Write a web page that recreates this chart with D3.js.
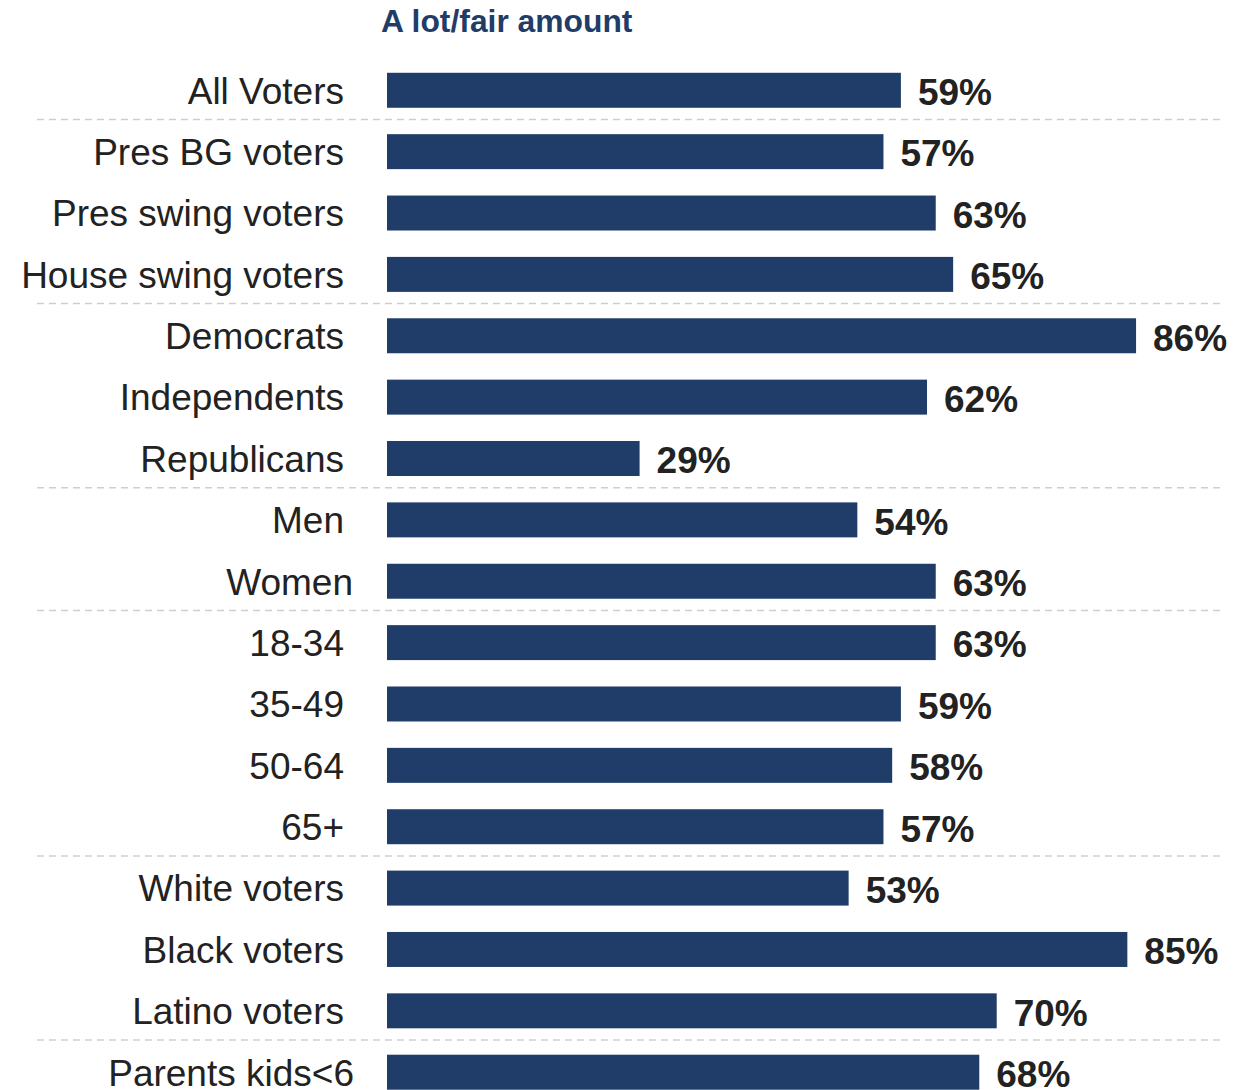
<!DOCTYPE html>
<html>
<head>
<meta charset="utf-8">
<script src="https://cdn.jsdelivr.net/npm/d3@7"></script>
<style>
  html, body { margin: 0; padding: 0; background: #fff; }
  svg { display: block; }
</style>
</head>
<body>
<svg id="chart" width="1253" height="1090"></svg>
<script>
// Share saying "a lot / fair amount", by voter group
const categories = [
  "All Voters", "Pres BG voters", "Pres swing voters", "House swing voters",
  "Democrats", "Independents", "Republicans",
  "Men", "Women",
  "18-34", "35-49", "50-64", "65+",
  "White voters", "Black voters", "Latino voters",
  "Parents kids<6"
];
const values = [59, 57, 63, 65, 86, 62, 29, 54, 63, 63, 59, 58, 57, 53, 85, 70, 68];
// Groups end after these rows; a dashed rule separates them
const groupBreaks = ["All Voters", "House swing voters", "Republicans", "Women", "65+", "Latino voters"];
const seriesTitle = "A lot/fair amount";

const barColor = "#1f3d68";
const textColor = "#222222";
const font = "Liberation Sans, Arial, Helvetica, sans-serif";

const svg = d3.select("#chart");

const x = d3.scaleLinear().domain([0, 100]).range([387, 387 + 871]);
const y = d3.scaleBand()
  .domain(categories)
  .range([59.6, 59.6 + 61.37 * categories.length])
  .paddingInner(0.43)
  .paddingOuter(0.215);

// A couple of labels sit slightly further right than the rest
const labelShift = { "Women": 9, "Parents kids<6": 10 };

// Series title
svg.append("text")
  .attr("x", 381)
  .attr("y", 32)
  .attr("font-family", font)
  .attr("font-weight", "bold")
  .attr("font-size", 31.8)
  .attr("fill", "#1f3d68")
  .text(seriesTitle);

// Dashed group separators
const step = y.step();
svg.append("g").selectAll("line")
  .data(groupBreaks)
  .join("line")
  .attr("x1", 37)
  .attr("x2", 1220)
  .attr("y1", d => y(d) + y.bandwidth() + (step - y.bandwidth()) / 2 - 1.5)
  .attr("y2", d => y(d) + y.bandwidth() + (step - y.bandwidth()) / 2 - 1.5)
  .attr("stroke", "#cfcfcf")
  .attr("stroke-width", 1.5)
  .attr("stroke-dasharray", "7,5");

// Bars
svg.append("g").selectAll("rect")
  .data(categories)
  .join("rect")
  .attr("x", x(0))
  .attr("y", d => y(d))
  .attr("width", (d, i) => x(values[i]) - x(0))
  .attr("height", y.bandwidth())
  .attr("fill", barColor);

// Category labels
svg.append("g").selectAll("text")
  .data(categories)
  .join("text")
  .attr("x", d => 344 + (labelShift[d] || 0))
  .attr("y", d => y(d) + y.bandwidth() / 2)
  .attr("dy", "0.36em")
  .attr("text-anchor", "end")
  .attr("font-family", font)
  .attr("font-size", 37)
  .attr("fill", textColor)
  .text(d => d);

// Value labels
svg.append("g").selectAll("text")
  .data(categories)
  .join("text")
  .attr("x", (d, i) => x(values[i]) + 17)
  .attr("y", d => y(d) + y.bandwidth() / 2)
  .attr("dy", "0.4em")
  .attr("font-family", font)
  .attr("font-weight", "bold")
  .attr("font-size", 37)
  .attr("fill", textColor)
  .text((d, i) => values[i] + "%");
</script>
</body>
</html>
